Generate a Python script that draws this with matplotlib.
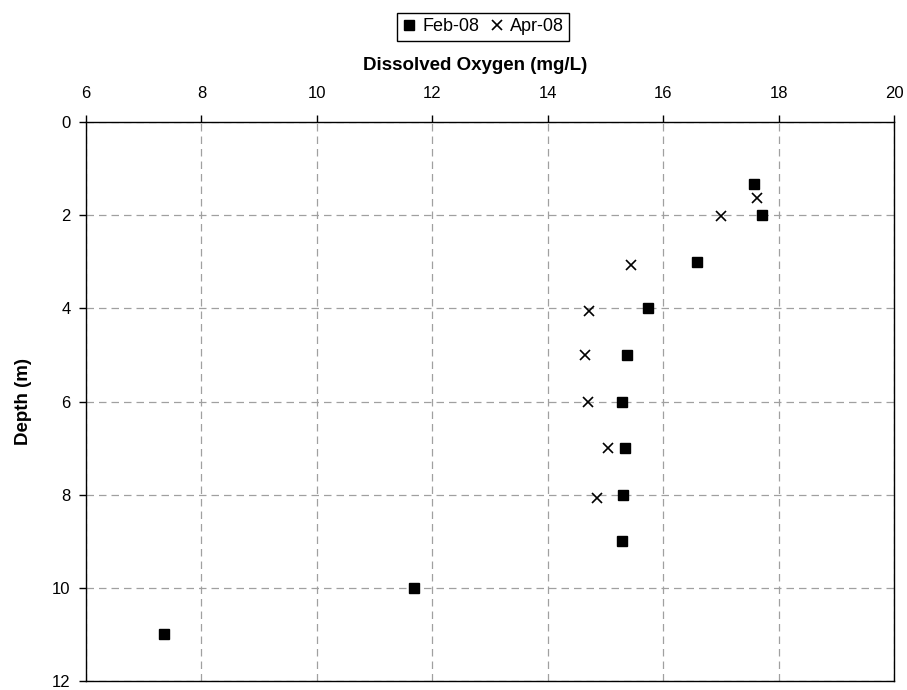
import matplotlib.pyplot as plt

plt.rcParams['font.family'] = ['Liberation Sans', 'DejaVu Sans']

# Feb-08 profile
feb_do = [17.57, 17.71, 16.59, 15.74, 15.37, 15.28, 15.34, 15.31, 15.29, 11.68, 7.36]
feb_depth = [1.34, 2.0, 3.0, 4.0, 5.0, 6.0, 7.0, 8.0, 9.0, 10.0, 11.0]

# Apr-08 profile
apr_do = [17.62, 17.0, 15.44, 14.72, 14.65, 14.69, 15.04, 14.86]
apr_depth = [1.63, 2.02, 3.06, 4.06, 5.0, 6.0, 7.0, 8.07]

fig = plt.figure(figsize=(9.07, 6.9), dpi=100)
ax = fig.add_axes([86 / 907, 9 / 690, 808 / 907, 559 / 690])

ax.plot(feb_do, feb_depth, linestyle='none', marker='s', color='black',
        markersize=7, label='Feb-08')
ax.plot(apr_do, apr_depth, linestyle='none', marker='x', color='black',
        markersize=7.5, markeredgewidth=1.2, label='Apr-08')

ax.set_xlim(6, 20)
ax.set_ylim(12, 0)
ax.set_xticks(range(6, 21, 2))
ax.set_yticks(range(0, 13, 2))
ax.xaxis.tick_top()
ax.tick_params(labelsize=12, direction='out', length=5, width=1)
ax.tick_params(axis='x', pad=10)
ax.tick_params(axis='y', pad=6)
ax.grid(True, color='#a0a0a0', linestyle=(0, (6, 4)), linewidth=0.9)
ax.set_axisbelow(True)
for s in ax.spines.values():
    s.set_color('black')
    s.set_linewidth(1)

fig.text(475 / 907, 1 - 66 / 690, 'Dissolved Oxygen (mg/L)', fontsize=13.5,
         fontweight='bold', ha='center', va='center')
fig.text(23 / 907, 1 - 401 / 690, 'Depth (m)', fontsize=13.5,
         fontweight='bold', ha='center', va='center', rotation=90)

fig.legend(loc='upper center', bbox_to_anchor=(483 / 907, 1 - 13 / 690), ncol=2,
           fontsize=13, frameon=True, fancybox=False, edgecolor='black',
           handlelength=0.8, handletextpad=0.3, columnspacing=0.6,
           borderpad=0.3, borderaxespad=0, framealpha=1)

fig.savefig('out.png', dpi=100)
